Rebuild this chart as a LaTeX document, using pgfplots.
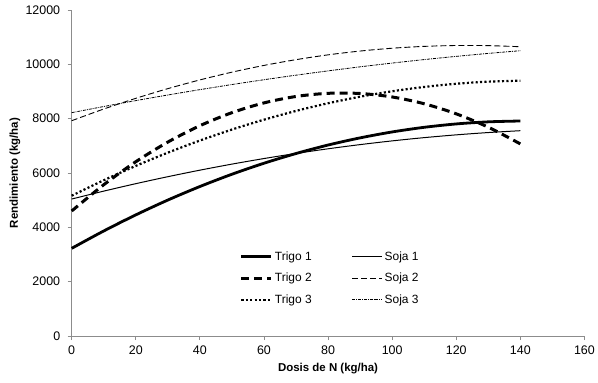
\documentclass[border=0pt]{standalone}
\usepackage{fontspec}
\setmainfont{Liberation Sans}
\usepackage{pgfplots}
\pgfplotsset{compat=1.18}
\begin{document}
\begin{tikzpicture}
\path[use as bounding box] (-71.7bp,-47bp) rectangle (526.3bp,336bp);
\begin{axis}[
  at={(0,0)}, anchor=south west,
  scale only axis, width=512.7bp, height=326bp,
  xmin=0, xmax=160, ymin=0, ymax=12000,
  xtick={0,20,...,160}, ytick={0,2000,...,12000},
  scaled y ticks=false, scaled x ticks=false,
  axis x line=bottom, axis y line=left,
  axis line style={-, color=black!45, line width=0.8bp},
  tick style={color=black!45, line width=0.8bp},
  tick align=outside, major tick length=4bp,
  /pgf/number format/1000 sep={},
  /pgf/number format/assume math mode=true,
  tick label style={font=\fontsize{12.5}{14}\selectfont, text=black},
  yticklabel style={xshift=-4bp},
  xticklabel style={yshift=-2bp},
  xlabel={\bfseries Dosis de N (kg/ha)},
  ylabel={\bfseries Rendimiento (kg/ha)},
  label style={font=\fontsize{11.5}{13}\selectfont},
  xlabel style={at={(axis description cs:0.5,-0.1)}, anchor=center},
  ylabel style={at={(axis description cs:-0.1106,0.5)}, anchor=center},
  legend columns=2,
  legend style={draw=none, fill=none, at={(rel axis cs:0.322,0.272)}, anchor=north west,
    font=\fontsize{12}{14}\selectfont, row sep=7.5bp,
    /tikz/every even column/.append style={column sep=38bp}},
  legend cell align=left,
  legend image code/.code={\draw[#1] (0bp,0bp) -- (30bp,0bp);},
  clip=false,
]
% Trigo 1
\addplot[black, line width=2.8bp, smooth] coordinates {
(0,3227) (10,3866) (20,4458) (30,5004) (40,5502) (50,5954) (60,6359) (70,6717)
(80,7029) (90,7293) (100,7511) (110,7682) (120,7806) (130,7883) (140,7914)};
\addlegendentry{Trigo 1}
% Soja 1
\addplot[black, line width=1bp, smooth] coordinates {
(0,5042) (10,5333) (20,5607) (30,5864) (40,6104) (50,6327) (60,6532) (70,6720)
(80,6891) (90,7045) (100,7182) (110,7302) (120,7404) (130,7489) (140,7557)};
\addlegendentry{Soja 1}
% Trigo 2
\addplot[black, line width=3bp, dash pattern=on 8bp off 5bp, smooth] coordinates {
(0,4601) (10,5568) (20,6414) (30,7138) (40,7740) (50,8221) (60,8580) (70,8817)
(80,8933) (90,8927) (100,8799) (110,8549) (120,8178) (130,7686) (140,7071)};
\addlegendentry{Trigo 2}
% Soja 2
\addplot[black, line width=0.9bp, dash pattern=on 6bp off 3bp, smooth] coordinates {
(0,7925) (10,8355) (20,8748) (30,9105) (40,9426) (50,9711) (60,9960) (70,10172)
(80,10349) (90,10489) (100,10593) (110,10661) (120,10693) (130,10688) (140,10648)};
\addlegendentry{Soja 2}
% Trigo 3
\addplot[black, line width=2.2bp, dash pattern=on 2.1bp off 2.3bp, smooth] coordinates {
(0,5164) (10,5733) (20,6261) (30,6748) (40,7194) (50,7599) (60,7962) (70,8285)
(80,8567) (90,8808) (100,9008) (110,9167) (120,9285) (130,9362) (140,9398)};
\addlegendentry{Trigo 3}
% Soja 3
\addplot[black, line width=0.8bp, dash pattern=on 3bp off 1bp on 0.8bp off 1bp, smooth] coordinates {
(0,8220) (10,8447) (20,8664) (30,8871) (40,9068) (50,9256) (60,9433) (70,9601)
(80,9759) (90,9908) (100,10046) (110,10175) (120,10293) (130,10402) (140,10501)};
\addlegendentry{Soja 3}
\end{axis}
\end{tikzpicture}
\end{document}
